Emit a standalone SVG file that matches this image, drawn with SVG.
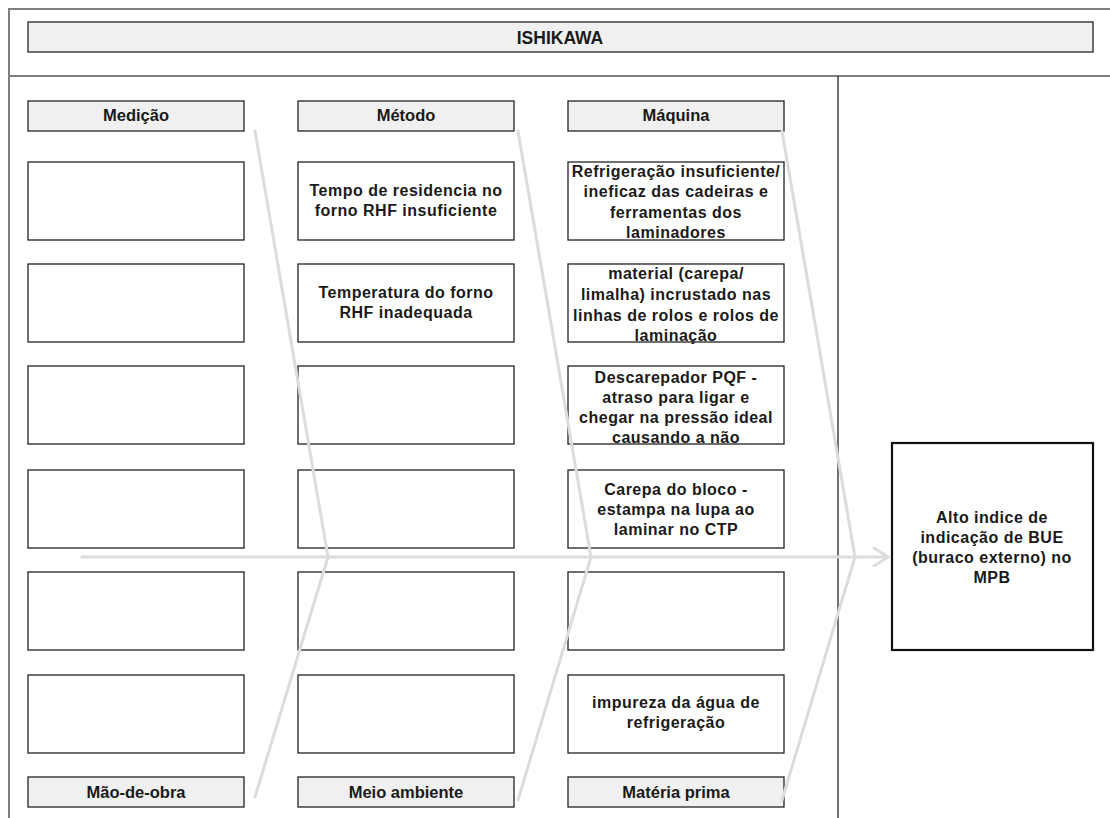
<svg xmlns="http://www.w3.org/2000/svg" width="1110" height="818" viewBox="0 0 1110 818">
<defs>
<style>
.frame{fill:none;stroke:#7f7f7f;stroke-width:2}
.hdr{fill:#f0f0f0;stroke:#222;stroke-width:1.3}
.box{fill:#fff;stroke:#222;stroke-width:1.3}
.res{fill:#fff;stroke:#111;stroke-width:2.2}
.bone{stroke:#dcdcdc;stroke-width:3;fill:none;stroke-linecap:round}
text{font-family:"Liberation Sans",Arial,sans-serif;font-weight:bold;fill:#1a1a1a;text-anchor:middle}
.t{font-size:16px;letter-spacing:0.5px}
.c{font-size:16.5px}
.ti{font-size:17.5px}
</style>
<marker id="arr" markerWidth="20" markerHeight="20" refX="16" refY="10" orient="auto" markerUnits="userSpaceOnUse">
<path d="M2,1 L16,10 L2,19" fill="none" stroke="#dcdcdc" stroke-width="3" stroke-linecap="round"/>
</marker>
</defs>
<rect width="1110" height="818" fill="#fff"/>
<g id="frame">
<path class="frame" d="M9,818 V9 H1112"/>
<line x1="9" y1="76" x2="1112" y2="76" stroke="#7f7f7f" stroke-width="2"/>
<line x1="838" y1="76" x2="838" y2="818" stroke="#222" stroke-width="1.3"/>
</g>
<g id="title"><rect class="hdr" x="28" y="22" width="1065" height="30"/><text class="ti" x="560" y="44">ISHIKAWA</text></g>
<g id="medicao"><rect class="hdr" x="28" y="101" width="216" height="30"/><text class="c" x="136" y="121">Medição</text></g>
<g id="metodo"><rect class="hdr" x="298" y="101" width="216" height="30"/><text class="c" x="406" y="121">Método</text></g>
<g id="maquina"><rect class="hdr" x="568" y="101" width="216" height="30"/><text class="c" x="676" y="121">Máquina</text></g>
<g id="maodeobra"><rect class="hdr" x="28" y="777" width="216" height="30"/><text class="c" x="136" y="798">Mão-de-obra</text></g>
<g id="meioambiente"><rect class="hdr" x="298" y="777" width="216" height="30"/><text class="c" x="406" y="798">Meio ambiente</text></g>
<g id="materiaprima"><rect class="hdr" x="568" y="777" width="216" height="30"/><text class="c" x="676" y="798">Matéria prima</text></g>
<g id="med1"><rect class="box" x="28" y="162" width="216" height="78"/></g>
<g id="med2"><rect class="box" x="28" y="264" width="216" height="78"/></g>
<g id="med3"><rect class="box" x="28" y="366" width="216" height="78"/></g>
<g id="med4"><rect class="box" x="28" y="470" width="216" height="78"/></g>
<g id="med5"><rect class="box" x="28" y="572" width="216" height="78"/></g>
<g id="med6"><rect class="box" x="28" y="675" width="216" height="78"/></g>
<g id="met1"><rect class="box" x="298" y="162" width="216" height="78"/><text class="t" x="406" y="196">Tempo de residencia no</text><text class="t" x="406" y="216">forno RHF insuficiente</text></g>
<g id="met2"><rect class="box" x="298" y="264" width="216" height="78"/><text class="t" x="406" y="298">Temperatura do forno</text><text class="t" x="406" y="318">RHF inadequada</text></g>
<g id="met3"><rect class="box" x="298" y="366" width="216" height="78"/></g>
<g id="met4"><rect class="box" x="298" y="470" width="216" height="78"/></g>
<g id="met5"><rect class="box" x="298" y="572" width="216" height="78"/></g>
<g id="met6"><rect class="box" x="298" y="675" width="216" height="78"/></g>
<g id="maq1"><rect class="box" x="568" y="162" width="216" height="78"/><text class="t" x="676" y="177">Refrigeração insuficiente/</text><text class="t" x="676" y="197">ineficaz das cadeiras e</text><text class="t" x="676" y="218">ferramentas dos</text><text class="t" x="676" y="238">laminadores</text></g>
<g id="maq2"><rect class="box" x="568" y="264" width="216" height="78"/><text class="t" x="676" y="279">material (carepa/</text><text class="t" x="676" y="300">limalha) incrustado nas</text><text class="t" x="676" y="321">linhas de rolos e rolos de</text><text class="t" x="676" y="341">laminação</text></g>
<g id="maq3"><rect class="box" x="568" y="366" width="216" height="78"/><text class="t" x="676" y="383">Descarepador PQF -</text><text class="t" x="676" y="403">atraso para ligar e</text><text class="t" x="676" y="423">chegar na pressão ideal</text><text class="t" x="676" y="443">causando a não</text></g>
<g id="maq4"><rect class="box" x="568" y="470" width="216" height="78"/><text class="t" x="676" y="495">Carepa do bloco -</text><text class="t" x="676" y="515">estampa na lupa ao</text><text class="t" x="676" y="535">laminar no CTP</text></g>
<g id="maq5"><rect class="box" x="568" y="572" width="216" height="78"/></g>
<g id="maq6"><rect class="box" x="568" y="675" width="216" height="78"/><text class="t" x="676" y="708">impureza da água de</text><text class="t" x="676" y="728">refrigeração</text></g>
<g id="result"><rect class="res" x="892" y="443" width="201" height="207"/><text class="t" x="992" y="523">Alto indice de</text><text class="t" x="992" y="543">indicação de BUE</text><text class="t" x="992" y="563">(buraco externo) no</text><text class="t" x="992" y="583">MPB</text></g>
<g id="connectors">
<line class="bone" x1="255" y1="131" x2="328" y2="557"/>
<line class="bone" x1="255" y1="797" x2="328" y2="557"/>
<line class="bone" x1="518" y1="131" x2="591" y2="557"/>
<line class="bone" x1="518" y1="800" x2="591" y2="557"/>
<line class="bone" x1="782" y1="131" x2="855" y2="557"/>
<line class="bone" x1="782" y1="800" x2="855" y2="557"/>
<line class="bone" x1="82" y1="557" x2="888" y2="557" marker-end="url(#arr)"/>
</g>
</svg>
